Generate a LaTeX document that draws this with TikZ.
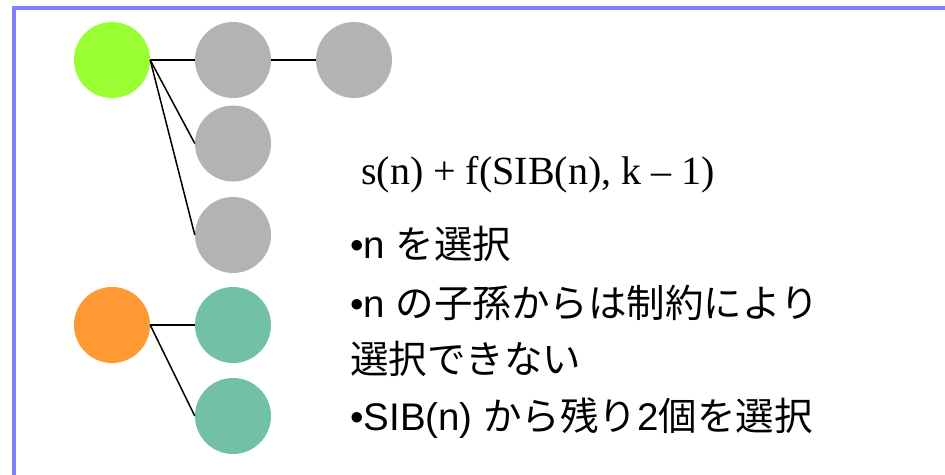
\documentclass[tikz,border=0pt]{standalone}
\usepackage{fontspec}
\newfontfamily\jpfont{Noto Sans CJK JP}
\newfontfamily\arfont{Liberation Sans}
\newfontfamily\tmfont{Liberation Serif}
\definecolor{framec}{RGB}{128,128,255}
\definecolor{greenc}{RGB}{153,255,51}
\definecolor{grayc}{RGB}{179,179,179}
\definecolor{orangec}{RGB}{255,153,51}
\definecolor{tealc}{RGB}{114,192,168}
\begin{document}
\begin{tikzpicture}[x=1pt,y=-1pt,
  dot/.style={circle,minimum size=76pt,inner sep=0pt,draw=none},
  link/.style={draw=black,line width=1.5pt},
  txt/.style={anchor=base west,inner sep=0pt,font=\fontsize{38.5}{44}\selectfont}]
\useasboundingbox (0,0) rectangle (945,474);
\draw[framec,line width=4pt] (14,500) -- (14,7.5) -- (960,7.5);
\node[dot,fill=greenc] (g) at (112,60) {};
\node[dot,fill=grayc] (a) at (233,60) {};
\node[dot,fill=grayc] (b) at (354,60) {};
\node[dot,fill=grayc] (c) at (233,143.5) {};
\node[dot,fill=grayc] (d) at (233,235) {};
\node[dot,fill=orangec] (o) at (112,325) {};
\node[dot,fill=tealc] (t) at (233,325) {};
\node[dot,fill=tealc] (u) at (233,416) {};
\draw[link] (g.east) -- (a.west);
\draw[link] (a.east) -- (b.west);
\draw[link] (g.east) -- (c.west);
\draw[link] (g.east) -- (d.west);
\draw[link] (o.east) -- (t.west);
\draw[link] (o.east) -- (u.west);
\node[txt,font=\tmfont\fontsize{40}{46}\selectfont] (f) at (361,184) {s(n) + f(SIB(n), k – 1)};
\node[txt] (l1) at (350,258) {\arfont •n {\jpfont を選択}};
\node[txt] (l2) at (350,317) {\arfont •n {\jpfont の子孫からは制約により}};
\node[txt] (l3) at (350,373) {\jpfont 選択できない};
\node[txt] (l4) at (350,430) {\arfont •SIB(n) {\jpfont から残り}2{\jpfont 個を選択}};
\end{tikzpicture}
\end{document}
